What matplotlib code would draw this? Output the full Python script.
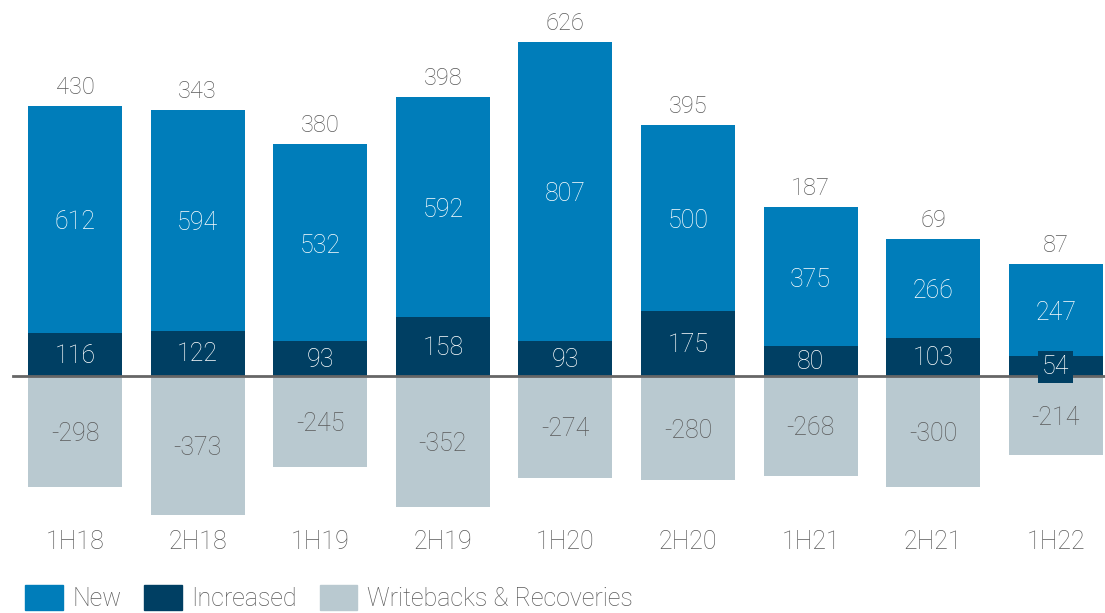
import matplotlib
matplotlib.use("Agg")
import matplotlib.pyplot as plt
from matplotlib.patches import Patch
import matplotlib.transforms as mtransforms

periods = ["1H18", "2H18", "1H19", "2H19", "1H20", "2H20", "1H21", "2H21", "1H22"]
new = [612, 594, 532, 592, 807, 500, 375, 266, 247]
increased = [116, 122, 93, 158, 93, 175, 80, 103, 54]
writebacks = [-298, -373, -245, -352, -274, -280, -268, -300, -214]
totals = [430, 343, 380, 398, 626, 395, 187, 69, 87]

c_new = "#007DBA"
c_inc = "#003F63"
c_wb = "#B9C9D0"
c_txt = "#5A5A5A"

plt.rcParams['font.family'] = ['Roboto', 'DejaVu Sans']
FW = 'light'

fig = plt.figure(figsize=(11.05, 6.13), dpi=100)
ax = fig.add_axes([0, 0, 1, 1])
ax.set_xlim(-0.612, 8.401)
ax.set_ylim(-638, 1012)
ax.axis('off')

x = list(range(len(periods)))
w = 0.767
ax.bar(x, increased, w, color=c_inc, zorder=2)
ax.bar(x, new, w, bottom=increased, color=c_new, zorder=2)
ax.bar(x, writebacks, w, color=c_wb, zorder=2)

ax.axhline(0, xmin=13/1105, xmax=1, color="#666666", lw=2, zorder=3)

fs_in = 18
for i in x:
    ax.text(i, increased[i] + new[i] / 2 - 8, f"{new[i]}", ha='center', va='center',
            color='white', fontsize=fs_in, fontweight=FW, zorder=4)
    kw = {}
    if increased[i] < 70:
        kw['bbox'] = dict(boxstyle='square,pad=0.15', fc=c_inc, ec='none')
    ax.text(i, increased[i] / 2 - 3, f"{increased[i]}", ha='center', va='center',
            color='white', fontsize=fs_in, fontweight=FW, zorder=4, **kw)
    ax.text(i, writebacks[i] / 2 - 7, f"{writebacks[i]}", ha='center', va='center',
            color=c_txt, fontsize=fs_in, fontweight=FW, zorder=4)
    ax.annotate(f"{totals[i]}", (i, increased[i] + new[i]), xytext=(0, 5),
                textcoords='offset points', ha='center', va='bottom',
                color=c_txt, fontsize=17, fontweight=FW, zorder=4)

trans = mtransforms.blended_transform_factory(ax.transData, ax.transAxes)
for i in x:
    ax.text(i, 1 - 542 / 613, periods[i], transform=trans, ha='center', va='center',
            color=c_txt, fontsize=18, fontweight=FW)

handles = [Patch(color=c_new, label="New"),
           Patch(color=c_inc, label="Increased"),
           Patch(color=c_wb, label="Writebacks & Recoveries")]
leg = fig.legend(handles=handles, loc='lower left', ncol=3, frameon=False,
                 bbox_to_anchor=(25 / 1105, 2 / 613), borderpad=0, borderaxespad=0,
                 handlelength=1.5, handleheight=1.2, handletextpad=0.4,
                 columnspacing=0.9, prop={'size': 18, 'weight': FW})
for t in leg.get_texts():
    t.set_color(c_txt)

fig.savefig("out.png", dpi=100)
